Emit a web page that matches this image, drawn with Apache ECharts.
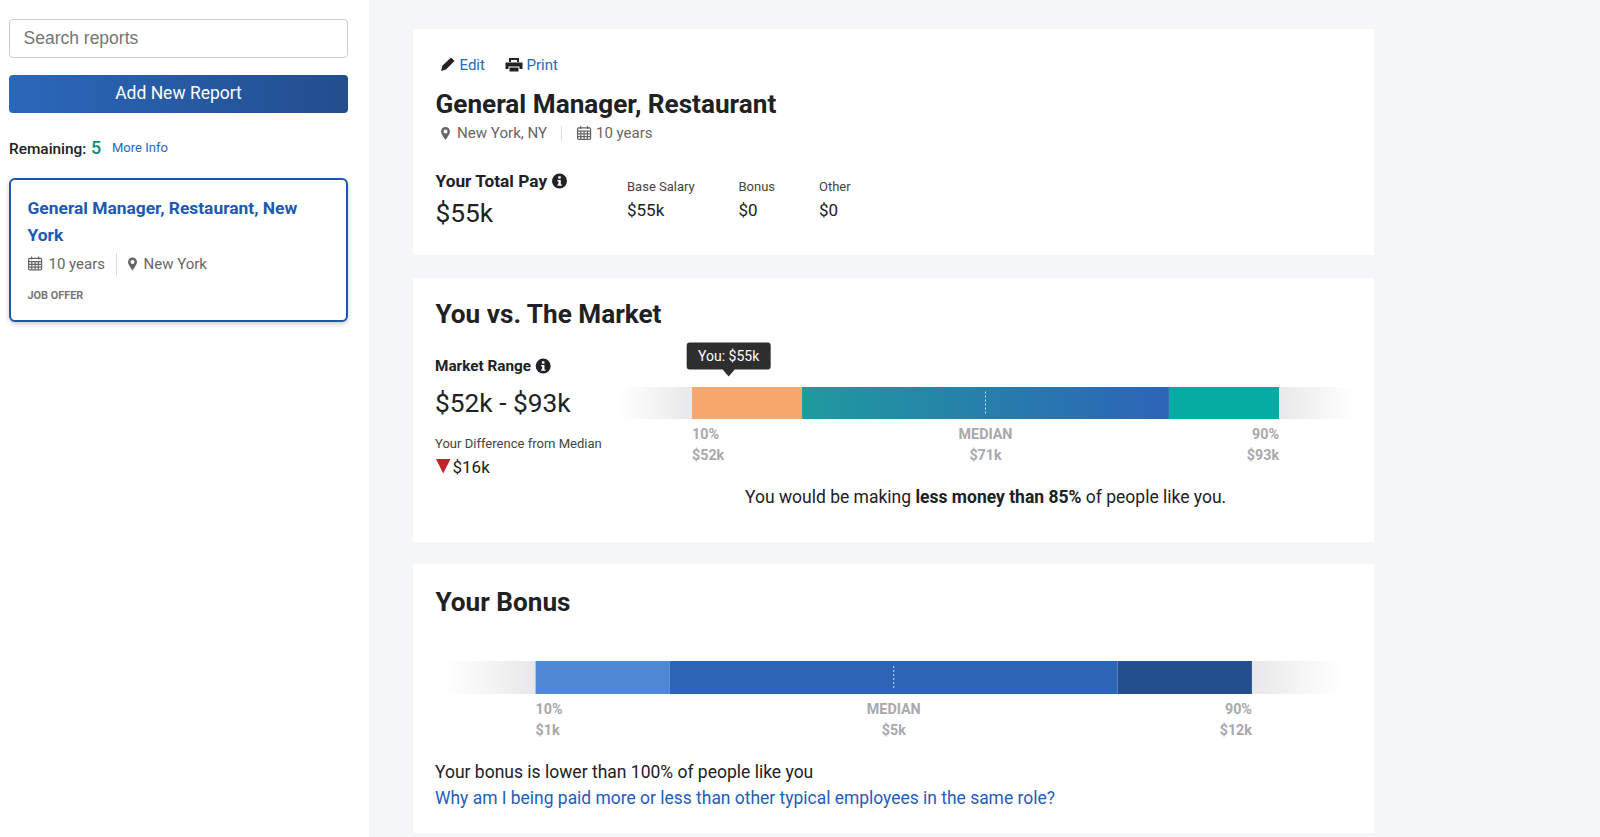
<!DOCTYPE html>
<html><head><meta charset="utf-8">
<script src="https://cdn.jsdelivr.net/npm/echarts@6/dist/echarts.min.js"></script>
<style>
html,body{margin:0;padding:0;width:1600px;height:837px;overflow:hidden;background:#f5f6f8;font-family:Roboto,sans-serif;color:#202124}
.box{position:absolute;box-sizing:border-box;background:#fff}
.t{position:absolute;transform:translateY(-50%);white-space:nowrap;line-height:1.2}
svg{position:absolute}
#chart{position:absolute;left:0;top:0;width:1600px;height:837px;z-index:2;pointer-events:none}
.h{font-size:26.15px;font-weight:700;color:#202124}
.grey{color:#666;font-size:15px}
.blue{color:#2b66bf}
b{font-weight:700}
</style></head><body>
<div class="box" style="left:0;top:0;width:369px;height:837px"></div>
<div class="box" style="left:9px;top:19px;width:339px;height:39px;border:1px solid #ccc;border-radius:4px"></div>
<div class="t" style="left:23.5px;top:37.5px;font-size:17.5px;color:#757575;font-family:'Liberation Sans'">Search reports</div>
<div class="box" style="left:9px;top:75px;width:339px;height:38px;border-radius:4px;background:linear-gradient(90deg,#2b67ba,#224e8e)"></div>
<div class="t" style="left:9px;width:339px;text-align:center;top:93px;font-size:17.5px;color:#fff">Add New Report</div>
<div class="t" style="left:9px;top:148.5px;font-size:15.4px;font-weight:500">Remaining:</div>
<div class="t" style="left:91px;top:147.5px;font-size:18px;font-weight:500;color:#0d8a7e">5</div>
<div class="t blue" style="left:112px;top:147.5px;font-size:13px">More Info</div>
<div class="box" style="left:9px;top:178px;width:339px;height:144px;border:2px solid #1c56ad;border-radius:6px;box-shadow:0 2px 5px rgba(0,0,0,.2)"></div>
<div class="t" style="left:27.5px;top:208px;font-size:17.4px;font-weight:700;color:#1b5ab0">General Manager, Restaurant, New</div>
<div class="t" style="left:27.5px;top:234.5px;font-size:17.4px;font-weight:700;color:#1b5ab0">York</div>
<div class="t grey" style="left:48.5px;top:264px">10 years</div>
<div class="box" style="left:116px;top:253px;width:1px;height:23px;background:#ddd"></div>
<div class="t grey" style="left:143.5px;top:264px">New York</div>
<div class="t" style="left:27.5px;top:296px;font-size:10.9px;font-weight:700;color:#777">JOB OFFER</div>

<div class="box" style="left:413px;top:29px;width:961px;height:226px"></div>
<div class="box" style="left:413px;top:277.5px;width:961px;height:264.5px"></div>
<div class="box" style="left:413px;top:564px;width:961px;height:269px"></div>

<div class="t blue" style="left:459.5px;top:65px;font-size:15px">Edit</div>
<div class="t blue" style="left:526.5px;top:65px;font-size:15px">Print</div>
<div class="t h" style="left:435.5px;top:105px">General Manager, Restaurant</div>
<div class="t grey" style="left:457px;top:133px;font-size:15.1px">New York, NY</div>
<div class="box" style="left:560.5px;top:126px;width:1px;height:15px;background:#ddd"></div>
<div class="t grey" style="left:596px;top:133px">10 years</div>
<div class="t" style="left:435.5px;top:181px;font-size:17.3px;font-weight:700">Your Total Pay</div>
<div class="t" style="left:435.5px;top:214px;font-size:26.3px">$55k</div>
<div class="t" style="left:627px;top:187px;font-size:13px;color:#444">Base Salary</div>
<div class="t" style="left:627px;top:210px;font-size:17px">$55k</div>
<div class="t" style="left:738.5px;top:187px;font-size:13px;color:#444">Bonus</div>
<div class="t" style="left:738.5px;top:210px;font-size:17px">$0</div>
<div class="t" style="left:819px;top:187px;font-size:13px;color:#444">Other</div>
<div class="t" style="left:819px;top:210px;font-size:17px">$0</div>

<div class="t h" style="left:435.5px;top:315px">You vs. The Market</div>
<div class="t" style="left:435px;top:366px;font-size:15.3px;font-weight:700">Market Range</div>
<div class="t" style="left:435px;top:404px;font-size:26.3px">$52k - $93k</div>
<div class="t" style="left:435px;top:444px;font-size:13.05px;color:#444">Your Difference from Median</div>
<div class="t" style="left:452.5px;top:466.5px;font-size:17px">$16k</div>
<div class="t" style="left:745px;top:496.5px;font-size:17.5px">You would be making <b>less money than 85%</b> of people like you.</div>

<div class="t h" style="left:435.5px;top:603px">Your Bonus</div>
<div class="t" style="left:435px;top:771.5px;font-size:17.5px">Your bonus is lower than 100% of people like you</div>
<div class="t" style="left:435px;top:797.5px;font-size:17.45px;color:#1f5dbb">Why am I being paid more or less than other typical employees in the same role?</div>

<svg id="icons" style="left:0;top:0;z-index:1" width="1600" height="837"></svg>
<div id="chart"></div>
<script>
// Percentile widths of the stacked bands
const marketCategory = ['Market'];
const marketBandNames = ['fadeLow', 'p10to25', 'p25to75', 'p75to90', 'fadeHigh'];
const marketBandWidths = [10, 15, 50, 15, 10];
const marketTicks = [10, 50, 90];
const marketTickNames = ['10%', 'MEDIAN', '90%'];
const marketTickValues = ['$52k', '$71k', '$93k'];
const marketYou = 15;
const marketYouLabel = 'You: $55k';

const bonusCategory = ['Bonus'];
const bonusBandNames = ['fadeLow', 'p10to25', 'p25to75', 'p75to90', 'fadeHigh'];
const bonusBandWidths = [10, 15, 50, 15, 10];
const bonusTicks = [10, 50, 90];
const bonusTickNames = ['10%', 'MEDIAN', '90%'];
const bonusTickValues = ['$1k', '$5k', '$12k'];

function grad(a, b) {
  return new echarts.graphic.LinearGradient(0, 0, 1, 0, [{offset: 0, color: a}, {offset: 1, color: b}]);
}
const FADE = '#e8e8ea', CLEAR = 'rgba(232,232,234,0)';
const marketColors = [grad(CLEAR, FADE), '#f8a76e', grad('#1f9a9e', '#2d63b8'), '#05aca4', grad(FADE, CLEAR)];
const bonusColors = [grad(CLEAR, FADE), '#4f88d4', '#2c64b6', '#234f8f', grad(FADE, CLEAR)];

function bandSeries(names, widths, colors, cats, idx, barW) {
  return names.map((n, i) => ({
    type: 'bar', name: n, stack: 'bands' + idx, xAxisIndex: idx, yAxisIndex: idx,
    barWidth: barW, silent: true, clip: false, animation: false,
    itemStyle: {color: colors[i]},
    data: [{value: [widths[i], cats[0]]}],
    encode: {x: 0, y: 1}
  }));
}
function medianSeries(medianValue, cats, idx) {
  return {
    type: 'custom', xAxisIndex: idx, yAxisIndex: idx, silent: true, z: 4, clip: false, animation: false,
    data: [[medianValue, cats[0]]],
    encode: {x: 0, y: 1},
    renderItem(p, api) {
      const c = api.coord([api.value(0), cats[0]]);
      return {type: 'line', shape: {x1: c[0], y1: c[1] - 11.5, x2: c[0], y2: c[1] + 11.5},
        style: {stroke: 'rgba(255,255,255,0.75)', lineWidth: 1, lineDash: [2, 2]}};
    }
  };
}
function xAxis(ticks, names, values, idx) {
  return {
    type: 'value', gridIndex: idx, min: 0, max: 100, position: 'bottom',
    axisLine: {show: false}, axisTick: {show: false}, splitLine: {show: false},
    axisLabel: {
      show: true, customValues: ticks, margin: 4.5, hideOverlap: false,
      alignMinLabel: 'left', alignMaxLabel: 'right', align: 'center', verticalAlign: 'top',
      color: '#a8a8ad', fontFamily: 'Roboto', fontWeight: 700, fontSize: 14.3, lineHeight: 21,
      formatter: v => { const i = ticks.indexOf(v); return names[i] + '\n' + values[i]; }
    }
  };
}
const chart = echarts.init(document.getElementById('chart'), null, {renderer: 'svg'});
chart.setOption({
  animation: false,
  backgroundColor: 'transparent',
  grid: [
    {left: 618.6, width: 733.8, top: 387, height: 32, show: false},
    {left: 446, width: 895.5, top: 661, height: 33, show: false}
  ],
  xAxis: [xAxis(marketTicks, marketTickNames, marketTickValues, 0), xAxis(bonusTicks, bonusTickNames, bonusTickValues, 1)],
  yAxis: [
    {type: 'category', gridIndex: 0, data: marketCategory, show: false},
    {type: 'category', gridIndex: 1, data: bonusCategory, show: false}
  ],
  series: [
    ...bandSeries(marketBandNames, marketBandWidths, marketColors, marketCategory, 0, 32),
    medianSeries(marketTicks[1], marketCategory, 0),
    {
      type: 'scatter', xAxisIndex: 0, yAxisIndex: 0, silent: true, z: 5, clip: false, animation: false,
      data: [[marketYou, marketCategory[0]]],
      symbol: 'path://M3 0H81a3 3 0 0 1 3 3V24a3 3 0 0 1-3 3H48L42 34L36 27H3a3 3 0 0 1-3-3V3a3 3 0 0 1 3-3Z',
      symbolSize: [84, 34], symbolOffset: [0, -43.5],
      itemStyle: {color: '#2e2e2e', opacity: 1},
      label: {show: true, position: 'inside', offset: [0, -3.5], formatter: () => marketYouLabel, color: '#fff', fontFamily: 'Roboto', fontSize: 14}
    },
    ...bandSeries(bonusBandNames, bonusBandWidths, bonusColors, bonusCategory, 1, 33),
    medianSeries(bonusTicks[1], bonusCategory, 1)
  ]
});

// Decorative page icons
const S = document.getElementById('icons');
function calendar(x, y) {
  return `<g transform="translate(${x},${y})" fill="none" stroke="#666" stroke-width="1.2"><rect x="0.6" y="2.4" width="13" height="11.4" rx="1"/><path d="M0.6 5.6H13.6M0.6 8.4H13.6M0.6 11.2H13.6M3.8 5.6V13.8M7.1 5.6V13.8M10.4 5.6V13.8M3.6 0.6V3.6M10.6 0.6V3.6" /></g>`;
}
function marker(x, y) {
  return `<path transform="translate(${x},${y})" fill="#666" fill-rule="evenodd" d="M4.5 0C2 0 0 2 0 4.5C0 7 4.5 13 4.5 13C4.5 13 9 7 9 4.5C9 2 7 0 4.5 0ZM4.5 2.6A2 2 0 1 1 4.5 6.6A2 2 0 1 1 4.5 2.6Z"/>`;
}
function info(x, y) {
  return `<g transform="translate(${x},${y}) scale(1.07)"><circle cx="7" cy="7" r="7" fill="#202124"/><rect x="5.8" y="2.6" width="2.4" height="2.2" fill="#fff"/><path d="M5 6H8.2V10.2H9.2V11.4H5V10.2H6V7.2H5Z" fill="#fff"/></g>`;
}
S.innerHTML = calendar(28, 256) + marker(128, 257.5) + marker(441, 127) + calendar(577, 125.5) + info(552, 173.5) + info(535.7, 358.5)
  + `<path d="M441 71L442.5 65.5L451 57.5L454.5 61L446 69.5Z" fill="#222"/>`
  + `<g fill="#222"><path d="M509 58H519V62H517V60H511V62H509Z"/><path d="M505.5 62.5H522.5V69H519.5V66.5H508.5V69H505.5Z"/><path d="M509.5 67.5H518.5V71.5H509.5Z"/></g>`
  + `<path d="M436 459H450.5L443.2 473.5Z" fill="#c3222a"/>`;
</script>
</body></html>
